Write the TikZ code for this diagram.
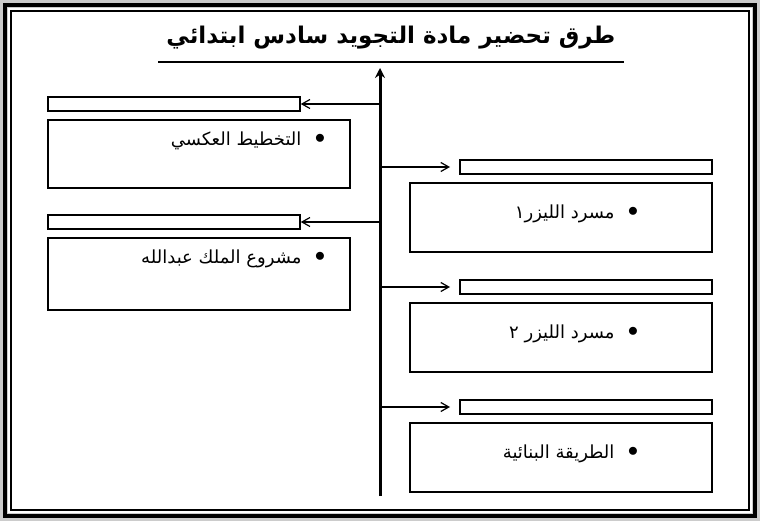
\documentclass[tikz,border=0pt]{standalone}
\usepackage{fontspec}
\newfontfamily\arabicfont[Script=Arabic]{DejaVu Sans}
\TeXXeTstate=1
\usetikzlibrary{arrows.meta}
\begin{document}
\begin{tikzpicture}[x=1pt,y=-1pt]
  \tikzset{slot/.style={draw,line width=1.5pt,fill=white},
    card/.style={draw,line width=1.5pt},
    lbl/.style={anchor=east,font=\arabicfont\fontsize{18}{22}\selectfont},
    dot/.style={anchor=center,font=\fontsize{20}{22}\selectfont}}
  \fill[gray!40] (0,0) rectangle (760,521);
  \fill[white] (8,8) rectangle (752,513);
  \draw[line width=4pt] (5,5) rectangle (755,516);
  \draw[line width=1.5pt] (11,11) rectangle (749,510);
  % title
  \node (title) at (391,38) {\arabicfont\fontsize{23}{26}\selectfont\bfseries\beginR طرق تحضير مادة التجويد سادس ابتدائي\endR};
  \draw[line width=1.5pt] (158,62) -- (624,62);
  % axis
  \coordinate (top) at (380,68);
  \coordinate (bot) at (380,496);
  \draw[line width=3pt,-{Stealth[length=10pt,width=10pt]}] (bot) -- (top);
  % left side
  \foreach \y/\h/\t [count=\i] in {104/84/{التخطيط العكسي}, 222/88/{مشروع الملك عبدالله}}{
    \node[slot,minimum width=252,minimum height=14,inner sep=0] (ls\i) at (174,\y) {};
    \draw[card] (48,\y+16) rectangle (350,\y+\h);
    \draw[line width=1.2pt,-{Straight Barb[length=8pt,width=9pt]}] (380,\y) -- (ls\i.east);
    \node[dot] (lb\i) at (320,\y+35) {$\bullet$};
    \node[lbl] (lt\i) at (305,\y+37) {\beginR\t\endR};
  }
  % right side
  \foreach \y/\t [count=\i] in {167/{مسرد الليزر١}, 287/{مسرد الليزر ٢}, 407/{الطريقة البنائية}}{
    \node[slot,minimum width=252,minimum height=14,inner sep=0] (rs\i) at (586,\y) {};
    \draw[card] (410,\y+16) rectangle (712,\y+85);
    \draw[line width=1.2pt,-{Straight Barb[length=8pt,width=9pt]}] (380,\y) -- (450,\y);
    \node[dot] (rb\i) at (633,\y+45) {$\bullet$};
    \node[lbl] (rt\i) at (618,\y+47) {\beginR\t\endR};
  }
\end{tikzpicture}
\end{document}
